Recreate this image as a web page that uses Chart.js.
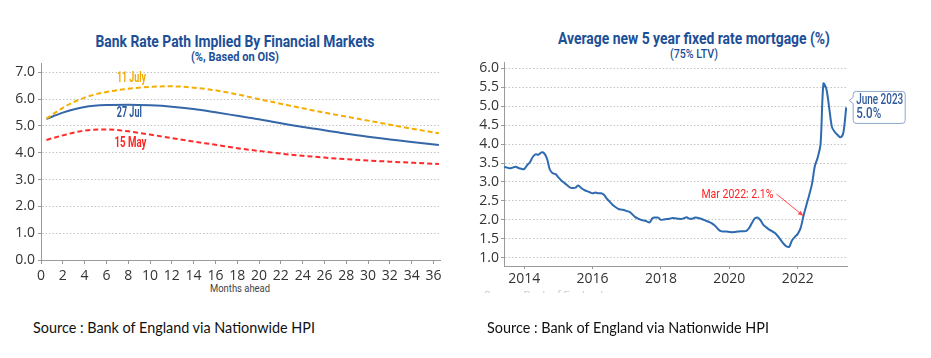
<!DOCTYPE html>
<html>
<head>
<meta charset="utf-8">
<script src="https://cdn.jsdelivr.net/npm/chart.js@4.4.1/dist/chart.umd.min.js"></script>
<style>
  body { margin: 0; background: #fff; width: 931px; height: 358px; overflow: hidden; position: relative; }
  canvas { position: absolute; }
  .fit { position: absolute; white-space: nowrap; font-family: Roboto, sans-serif; color: #1d4f97; }
  .source { position: absolute; font-family: Lato, sans-serif; font-size: 14.4px; line-height: 16px; color: #111; white-space: nowrap; }
</style>
</head>
<body>
<div class="fit" data-w="279" style="left:235px;top:32px;font-size:17px;line-height:18px;font-weight:bold">Bank Rate Path Implied By Financial Markets</div>
<div class="fit" data-w="88" style="left:235px;top:49px;font-size:13px;line-height:16px;font-weight:bold">(%, Based on OIS)</div>
<div class="fit" data-w="272" style="left:694px;top:29px;font-size:17px;line-height:18px;font-weight:bold">Average new 5 year fixed rate mortgage (%)</div>
<div class="fit" data-w="48" style="left:694px;top:46px;font-size:13px;line-height:16px;font-weight:500">(75% LTV)</div>
<div class="fit" data-w="60" style="left:240px;top:282px;font-size:11px;line-height:14px;color:#444">Months ahead</div>

<canvas id="rateChart" width="460" height="240" style="left:0;top:60px"></canvas>
<canvas id="mortgageChart" width="461" height="240" style="left:470px;top:60px"></canvas>

<div class="source" style="left:33px;top:320px">Source : Bank of England via Nationwide HPI</div>
<div class="source" style="left:487px;top:320px">Source : Bank of England via Nationwide HPI</div>
<div style="position:absolute;left:484px;top:290px;height:3px;overflow:hidden;font:11px Roboto, sans-serif;color:#ccc;white-space:nowrap"><div style="margin-top:-1px">Source: Bank of England</div></div>

<script>
// ---- Bank rate path (months ahead) ----
const monthsAhead = [0.5, 2, 4, 6, 8, 10, 12, 14, 16, 18, 20, 22, 24, 26, 28, 30, 32, 34, 36.5];
const path11Jul = [5.27, 5.68, 6.06, 6.27, 6.39, 6.46, 6.48, 6.43, 6.33, 6.18, 6.00, 5.83, 5.66, 5.50, 5.35, 5.20, 5.05, 4.90, 4.73];
const path27Jul = [5.26, 5.50, 5.71, 5.78, 5.79, 5.77, 5.72, 5.63, 5.51, 5.38, 5.25, 5.10, 4.96, 4.84, 4.71, 4.60, 4.50, 4.40, 4.29];
const path15May = [4.48, 4.65, 4.83, 4.87, 4.80, 4.68, 4.55, 4.42, 4.30, 4.17, 4.07, 3.97, 3.89, 3.82, 3.76, 3.71, 3.67, 3.63, 3.58];
const monthTicks = [0, 2, 4, 6, 8, 10, 12, 14, 16, 18, 20, 22, 24, 26, 28, 30, 32, 34, 36];
const rateTicks = [0, 1, 2, 3, 4, 5, 6, 7];

// ---- 5 year fixed mortgage rate, monthly Jun 2013 - Jun 2023 ----
const firstYear = 2013, firstMonth = 6;
const mortgageRate = [
  3.40, 3.38, 3.36, 3.38, 3.40, 3.37, 3.35,                               // 2013 Jun-Dec
  3.34, 3.44, 3.52, 3.66, 3.73, 3.72, 3.78, 3.76, 3.62, 3.33, 3.23, 3.21, // 2014
  3.12, 3.04, 2.98, 2.92, 2.86, 2.84, 2.85, 2.91, 2.84, 2.79, 2.76, 2.73, // 2015
  2.70, 2.72, 2.70, 2.70, 2.66, 2.56, 2.48, 2.40, 2.34, 2.29, 2.27, 2.26, // 2016
  2.23, 2.21, 2.14, 2.07, 2.03, 2.00, 1.98, 1.96, 1.93, 2.04, 2.06, 2.06, // 2017
  2.00, 2.01, 2.02, 2.03, 2.05, 2.04, 2.03, 2.02, 2.04, 2.07, 2.03, 2.03, // 2018
  2.06, 2.05, 2.03, 2.00, 1.97, 1.94, 1.90, 1.84, 1.76, 1.70, 1.69, 1.69, // 2019
  1.68, 1.67, 1.68, 1.69, 1.70, 1.70, 1.71, 1.79, 1.93, 2.04, 2.06, 1.98, // 2020
  1.86, 1.80, 1.74, 1.70, 1.65, 1.57, 1.47, 1.37, 1.30, 1.29, 1.46, 1.55, // 2021
  1.63, 1.78, 2.10, 2.38, 2.65, 2.95, 3.42, 3.65, 4.00, 5.60, 5.47, 4.98, // 2022
  4.45, 4.32, 4.24, 4.18, 4.30, 4.97                                      // 2023 Jan-Jun
];
const yearTicks = [2014, 2016, 2018, 2020, 2022];
const mortgageTicks = [1.0, 1.5, 2.0, 2.5, 3.0, 3.5, 4.0, 4.5, 5.0, 5.5, 6.0];
const marchNote = { label: 'Mar 2022', index: 105 };
const lastNote = 'June 2023';

const tickFont = { family: "'Open Sans', sans-serif", size: 14 };
const axisGrey = '#9a9a9a';

// squeeze html titles to the condensed width of the original typeface
document.querySelectorAll('.fit').forEach(el => {
  const k = Number(el.dataset.w) / el.getBoundingClientRect().width;
  el.style.transform = `translateX(-50%) scaleX(${k})`;
});

function fitText(ctx, text, x, y, width) {
  const k = width / ctx.measureText(text).width;
  ctx.save();
  ctx.translate(x, y);
  ctx.scale(k, 1);
  ctx.fillText(text, 0, 0);
  ctx.restore();
}

function toPoints(xs, ys) {
  return xs.map((x, i) => ({ x: x, y: ys[i] }));
}

// keep the plot box fixed: no extra room for edge tick labels
function noEdgePadding(s) {
  s.paddingTop = 0; s.paddingBottom = 0; s.paddingLeft = 0; s.paddingRight = 0;
}

const seriesLabels = {
  id: 'seriesLabels',
  afterDatasetsDraw(chart) {
    const { ctx, scales: { x, y } } = chart;
    const labels = [
      { text: '11 July', at: [8.3, 6.78], w: 29, color: '#f2a900' },
      { text: '27 Jul', at: [8.1, 5.47], w: 25, color: '#2d5a9a' },
      { text: '15 May', at: [8.2, 4.33], w: 32, color: '#ff2424' }
    ];
    ctx.save();
    ctx.font = "bold 14px Roboto, sans-serif";
    ctx.textAlign = 'center';
    ctx.textBaseline = 'middle';
    labels.forEach(l => {
      ctx.fillStyle = l.color;
      fitText(ctx, l.text, x.getPixelForValue(l.at[0]), y.getPixelForValue(l.at[1]), l.w);
    });
    ctx.restore();
  }
};

new Chart(document.getElementById('rateChart'), {
  type: 'line',
  data: {
    datasets: [
      { label: '11 July', data: toPoints(monthsAhead, path11Jul), borderColor: '#f5ad00', borderWidth: 2, borderDash: [5, 3] },
      { label: '27 Jul', data: toPoints(monthsAhead, path27Jul), borderColor: '#3566a8', borderWidth: 2 },
      { label: '15 May', data: toPoints(monthsAhead, path15May), borderColor: '#ff2a2a', borderWidth: 2, borderDash: [5, 3] }
    ]
  },
  options: {
    responsive: false,
    animation: false,
    events: [],
    layout: { padding: { top: 3, right: 20, bottom: 0, left: 0 } },
    elements: { point: { radius: 0 }, line: { cubicInterpolationMode: 'monotone' } },
    plugins: { legend: { display: false }, tooltip: { enabled: false } },
    scales: {
      x: {
        type: 'linear', min: 0, max: 36.6,
        afterBuildTicks: s => { s.ticks = monthTicks.map(v => ({ value: v })); },
        afterFit: s => { s.height = 40; noEdgePadding(s); },
        ticks: { font: tickFont, color: '#333', padding: 4, maxRotation: 0, autoSkip: false },
        grid: { drawOnChartArea: false, tickLength: 4, tickColor: axisGrey },
        border: { color: axisGrey, width: 1 }
      },
      y: {
        min: 0, max: 7.35,
        afterBuildTicks: s => { s.ticks = rateTicks.map(v => ({ value: v })); },
        afterFit: s => { s.width = 41; noEdgePadding(s); },
        ticks: { font: tickFont, color: '#333', padding: 3, autoSkip: false, callback: v => v.toFixed(1) },
        grid: { color: '#c4c4c4', tickLength: 3, tickColor: axisGrey },
        border: { color: axisGrey, width: 1, dash: [1.5, 2] }
      }
    }
  },
  plugins: [seriesLabels]
});

const mortgageNotes = {
  id: 'mortgageNotes',
  afterDatasetsDraw(chart) {
    const { ctx } = chart;
    const meta = chart.getDatasetMeta(0);
    ctx.save();

    // Mar 2022 arrow
    const p = meta.data[marchNote.index];
    const v = mortgageRate[marchNote.index];
    ctx.strokeStyle = '#ff4b4b';
    ctx.fillStyle = '#ff4b4b';
    ctx.lineWidth = 1;
    const sx = p.x - 27, sy = p.y - 22;
    ctx.beginPath(); ctx.moveTo(sx, sy); ctx.lineTo(p.x - 1, p.y - 1); ctx.stroke();
    const ang = Math.atan2(p.y - sy, p.x - sx);
    ctx.beginPath();
    ctx.moveTo(p.x, p.y);
    ctx.lineTo(p.x - 6 * Math.cos(ang - 0.4), p.y - 6 * Math.sin(ang - 0.4));
    ctx.lineTo(p.x - 6 * Math.cos(ang + 0.4), p.y - 6 * Math.sin(ang + 0.4));
    ctx.closePath(); ctx.fill();
    ctx.font = "13.5px Roboto, sans-serif";
    ctx.textAlign = 'right';
    ctx.textBaseline = 'middle';
    ctx.fillStyle = '#ff2020';
    fitText(ctx, marchNote.label + ': ' + v.toFixed(1) + '%', p.x - 30, p.y - 21, 72);

    // June 2023 callout
    const q = meta.data[meta.data.length - 1];
    const last = mortgageRate[mortgageRate.length - 1];
    const bx = q.x + 7, by = q.y - 16, bw = 52, bh = 32, r = 3;
    ctx.beginPath();
    ctx.moveTo(bx + r, by);
    ctx.lineTo(bx + bw - r, by); ctx.arcTo(bx + bw, by, bx + bw, by + r, r);
    ctx.lineTo(bx + bw, by + bh - r); ctx.arcTo(bx + bw, by + bh, bx + bw - r, by + bh, r);
    ctx.lineTo(bx + r, by + bh); ctx.arcTo(bx, by + bh, bx, by + bh - r, r);
    ctx.lineTo(bx, by + 12); ctx.lineTo(bx - 4, by + 9); ctx.lineTo(bx, by + 6);
    ctx.lineTo(bx, by + r); ctx.arcTo(bx, by, bx + r, by, r);
    ctx.closePath();
    ctx.fillStyle = '#fff'; ctx.fill();
    ctx.strokeStyle = '#8ea7c9'; ctx.stroke();
    ctx.fillStyle = '#2d5a9a';
    ctx.textAlign = 'left';
    ctx.font = "500 14px Roboto, sans-serif";
    fitText(ctx, lastNote, bx + 3, by + 9, 47);
    fitText(ctx, last.toFixed(1) + '%', bx + 3, by + 23.5, 25);
    ctx.restore();
  }
};

new Chart(document.getElementById('mortgageChart'), {
  type: 'line',
  data: {
    datasets: [{
      label: '5 year fixed (75% LTV)',
      data: mortgageRate.map((r, i) => ({ x: firstYear + (firstMonth - 1 + i) / 12, y: r })),
      borderColor: '#2e6ab0', borderWidth: 2, tension: 0.3
    }]
  },
  options: {
    responsive: false,
    animation: false,
    events: [],
    layout: { padding: { top: 2, right: 84, bottom: 0, left: 0 } },
    elements: { point: { radius: 0 } },
    plugins: { legend: { display: false }, tooltip: { enabled: false } },
    scales: {
      x: {
        type: 'linear', min: 2013.41, max: 2023.44,
        afterBuildTicks: s => { s.ticks = yearTicks.map(v => ({ value: v })); },
        afterFit: s => { s.height = 34; noEdgePadding(s); },
        ticks: { font: tickFont, color: '#333', padding: 2, maxRotation: 0, autoSkip: false, callback: v => String(v) },
        grid: { drawOnChartArea: false, tickLength: 3, tickColor: axisGrey },
        border: { color: axisGrey, width: 1 }
      },
      y: {
        min: 0.78, max: 6.17,
        afterBuildTicks: s => { s.ticks = mortgageTicks.map(v => ({ value: v })); },
        afterFit: s => { s.width = 34; noEdgePadding(s); },
        ticks: { font: tickFont, color: '#333', padding: 2, autoSkip: false, callback: v => v.toFixed(1) },
        grid: { color: '#c4c4c4', tickLength: 3, tickColor: axisGrey },
        border: { color: axisGrey, width: 1, dash: [1.5, 2] }
      }
    }
  },
  plugins: [mortgageNotes]
});
</script>
</body>
</html>
